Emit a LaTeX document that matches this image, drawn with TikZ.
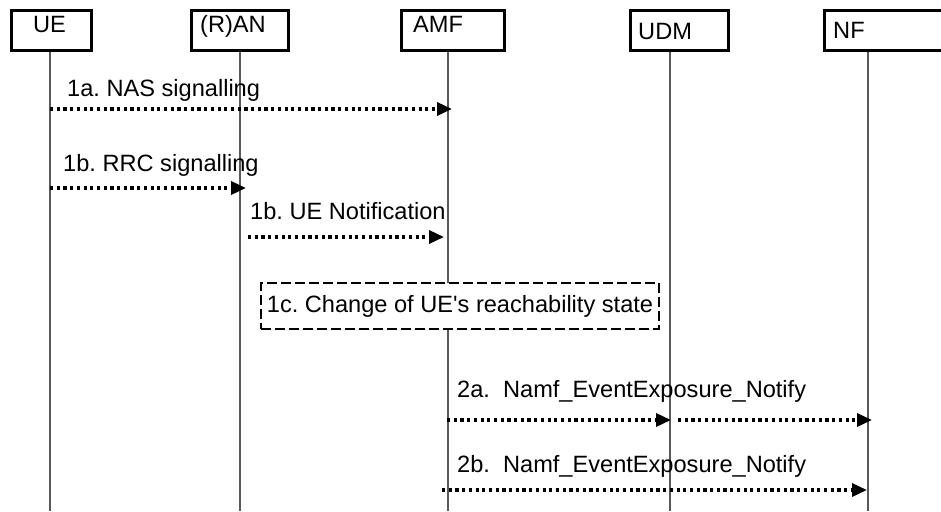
\documentclass[tikz,border=0pt]{standalone}
\usepackage{fontspec}
\setmainfont{Liberation Sans}[Ligatures=TeXOff]
\usetikzlibrary{arrows.meta}
\frenchspacing
\tikzset{entity/.style={draw,line width=2.7pt,minimum height=40pt,inner sep=0pt,anchor=north west},
    lbl/.style={anchor=base west,inner sep=0pt},
    lifeline/.style={line width=1.6pt,black!65},
    msg/.style={line width=3.4pt,dash pattern=on 3.2pt off 3.5pt,
        -{Triangle[length=15pt,width=13pt]}},
    procbox/.style={draw,fill=white,line width=2.8pt,dash pattern=on 10pt off 4pt,
        minimum width=398pt,minimum height=46pt,inner sep=0pt},
    }

\begin{document}
\begin{tikzpicture}[x=1pt,y=-1pt,font=\fontsize{23.6}{28}\selectfont]
	\useasboundingbox (0,0) rectangle (941,511);
	\foreach \x in {50,240,448,670,868}
		\draw[lifeline] (\x,49) -- (\x,511);
	% entities
	\node[entity,minimum width=80pt] (ue) at (10,9) {};
	\node[entity,minimum width=97pt] (ran) at (190,9) {};
	\node[entity,minimum width=103pt] (amf) at (400,9) {};
	\node[entity,minimum width=98pt] (udm) at (629,9) {};
	\node[entity,minimum width=130pt] (nf) at (823,9) {};
	\node[lbl] (ueT) at (33,33) {UE};
	\node[lbl] (ranT) at (200,33) {(R)AN};
	\node[lbl] (amfT) at (413,33) {AMF};
	\node[lbl] (udmT) at (638,40) {UDM};
	\node[lbl] (nfT) at (833,38) {NF};
	% messages
	\node[lbl] (t1a) at (67,96) {1a. NAS signalling};
	\coordinate (s1a) at (50,109); \coordinate (e1a) at (452,109);
	\draw[msg] (s1a) -- (e1a);
	\node[lbl] (t1b) at (63,171) {1b. RRC signalling};
	\coordinate (s1b) at (50,188); \coordinate (e1b) at (246,188);
	\draw[msg] (s1b) -- (e1b);
	\node[lbl] (t1n) at (250,219) {1b. UE Notification};
	\coordinate (s1n) at (248,237); \coordinate (e1n) at (444,237);
	\draw[msg] (s1n) -- (e1n);
	\node[procbox] (reach) at (460,306) {1c. Change of UE's reachability state};
	\node[lbl] (t2a) at (457,397) {2a.\ \ Namf\_EventExposure\_Notify};
	\coordinate (s2a) at (447,420); \coordinate (m2a) at (671,420);
	\coordinate (n2a) at (678,420); \coordinate (e2a) at (872,420);
	\draw[msg] (s2a) -- (m2a);
	\draw[msg] (n2a) -- (e2a);
	\node[lbl] (t2b) at (457,472) {2b.\ \ Namf\_EventExposure\_Notify};
	\coordinate (s2b) at (442,490); \coordinate (e2b) at (867,490);
	\draw[msg] (s2b) -- (e2b);
\end{tikzpicture}
\end{document}
